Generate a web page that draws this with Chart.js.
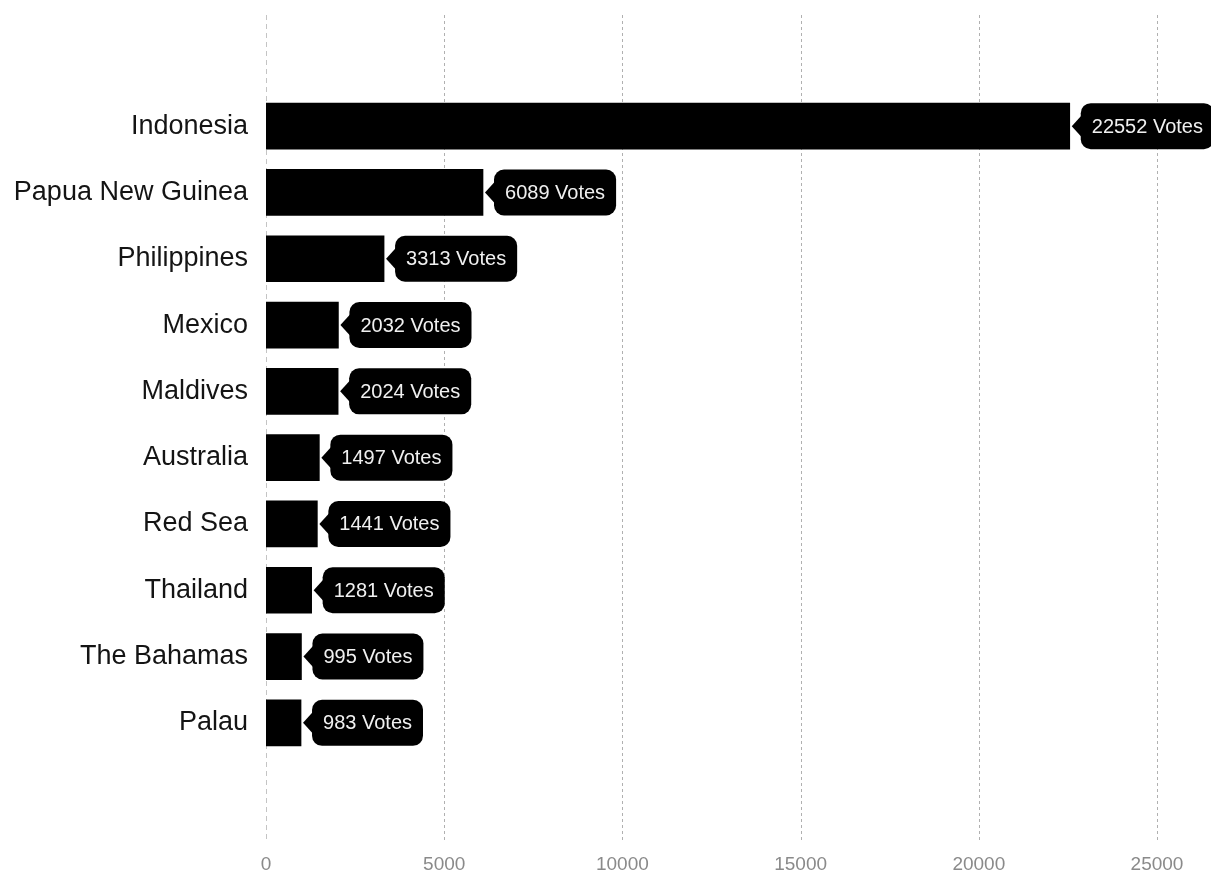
<!DOCTYPE html>
<html>
<head>
<meta charset="utf-8">
<script src="https://cdn.jsdelivr.net/npm/chart.js@4"></script>
<style>
  html, body { margin:0; padding:0; background:#fff; }
  #wrap { width:1211px; height:871px; }
</style>
</head>
<body>
<div id="wrap"><canvas id="votes"></canvas></div>
<script>
/* ---------- Data ---------- */
const countries = ['Indonesia','Papua New Guinea','Philippines','Mexico','Maldives',
                   'Australia','Red Sea','Thailand','The Bahamas','Palau'];
const votes     = [22552, 6089, 3313, 2032, 2024, 1497, 1441, 1281, 995, 983];
const xTicks    = [0, 5000, 10000, 15000, 20000, 25000];

const FONT = '"Liberation Sans", Arial, sans-serif';

/* dashed vertical grid lines, taller than the bar band */
const gridPlugin = {
  id: 'tallGrid',
  beforeDatasetsDraw(chart){
    const {ctx, scales:{x}} = chart;
    ctx.save();
    ctx.lineWidth = 1;
    for (const v of xTicks) {
      const px = Math.round(x.getPixelForValue(v)) + 0.5;
      ctx.strokeStyle = v === 0 ? '#c4c4c4' : '#b0b0b0';
      ctx.setLineDash(v === 0 ? [5,4] : [3,3]);
      ctx.beginPath();
      ctx.moveTo(px, 15);
      ctx.lineTo(px, 843);
      ctx.stroke();
    }
    ctx.restore();
  }
};

/* black callout labels to the right of each bar */
const calloutPlugin = {
  id: 'callouts',
  afterDatasetsDraw(chart){
    const {ctx} = chart;
    const meta = chart.getDatasetMeta(0);
    ctx.save();
    ctx.font = `20px ${FONT}`;
    ctx.textBaseline = 'middle';
    meta.data.forEach((bar, i)=>{
      const txt = `${votes[i]} Votes`;
      const tw  = ctx.measureText(txt).width;
      const h   = bar.height;
      const top = bar.y - h/2;
      const tip = bar.x + 2;
      const left = bar.x + 11;
      const w   = tw + 22;
      ctx.fillStyle = '#000';
      ctx.beginPath();
      ctx.roundRect(left, top, w, h, 10);
      ctx.fill();
      ctx.beginPath();
      ctx.moveTo(tip, bar.y);
      ctx.lineTo(left + 1, bar.y - 11);
      ctx.lineTo(left + 1, bar.y + 11);
      ctx.closePath();
      ctx.fill();
      ctx.fillStyle = '#f0f0f0';
      ctx.fillText(txt, left + 11, bar.y + 1);
    });
    ctx.restore();
  }
};

new Chart(document.getElementById('votes'), {
  type: 'bar',
  data: {
    labels: countries,
    datasets: [{
      data: votes,
      backgroundColor: '#000',
      borderWidth: 0,
      barThickness: 46
    }]
  },
  options: {
    indexAxis: 'y',
    responsive: true,
    maintainAspectRatio: false,
    animation: false,
    layout: { padding: { left: 0, right: 54, top: 93, bottom: 0 } },
    plugins: { legend: { display:false }, tooltip: { enabled:false } },
    scales: {
      x: {
        min: 0, max: 25000,
        afterBuildTicks: (s)=>{ s.ticks = xTicks.map(v=>({value:v})); },
        afterFit: (s)=>{ s.height = 115; },
        grid: { display:false },
        border: { display:false },
        ticks: {
          color:'#8a8a8a', padding: 0,
          font: { family: FONT, size: 19, lineHeight: '201px' },
          callback: (v)=> String(v)
        }
      },
      y: {
        afterFit: (s)=>{ s.width = 266; },
        grid: { display:false, drawTicks:false },
        border: { display:false },
        ticks: { color:'#141414', padding: 18, font: { family: FONT, size: 27 } }
      }
    }
  },
  plugins: [gridPlugin, calloutPlugin]
});
</script>
</body>
</html>
